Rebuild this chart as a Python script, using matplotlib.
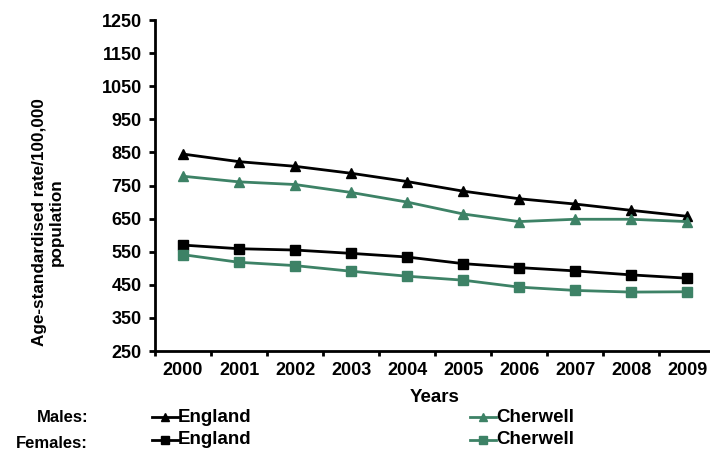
import numpy as np
import matplotlib.pyplot as plt

plt.rcParams['font.family'] = ['Liberation Sans', 'DejaVu Sans']
plt.rcParams['font.weight'] = 'bold'

years = ['2000', '2001', '2002', '2003', '2004', '2005', '2006', '2007', '2008', '2009']
england_males = [845, 822, 808, 787, 762, 733, 710, 694, 675, 657]
cherwell_males = [778, 761, 753, 729, 700, 664, 641, 648, 648, 641]
england_females = [570, 559, 555, 545, 534, 514, 502, 492, 480, 470]
cherwell_females = [541, 518, 508, 491, 476, 464, 443, 433, 428, 429]

black = '#000000'
green = '#3d8266'

W, H = 710, 450
fig = plt.figure(figsize=(W / 100, H / 100), dpi=100)
# axes box in pixels: left 155, right 715, top 20, bottom 351
ax = fig.add_axes([155 / W, 1 - 351 / H, 560 / W, 331 / H])

x = np.arange(len(years))
ax.plot(x, england_males, color=black, lw=2, marker='^', ms=7)
ax.plot(x, cherwell_males, color=green, lw=2, marker='^', ms=7)
ax.plot(x, england_females, color=black, lw=2, marker='s', ms=6.5)
ax.plot(x, cherwell_females, color=green, lw=2, marker='s', ms=6.5)

ax.set_xlim(-0.5, 9.5)
ax.set_ylim(250, 1250)
ax.set_yticks(np.arange(250, 1251, 100))
ax.set_xticks(np.arange(-0.5, 10, 1))
ax.set_xticklabels([])
ax.set_xticks(x, minor=True)
ax.set_xticklabels(years, minor=True)
ax.tick_params(axis='x', which='minor', length=0, pad=8, labelsize=13)
ax.tick_params(axis='x', which='major', length=3.5, width=2, direction='out')
ax.tick_params(axis='y', length=4.5, width=2, direction='out', pad=5, labelsize=13)
for side in ['top', 'right']:
    ax.spines[side].set_visible(False)
for side in ['left', 'bottom']:
    ax.spines[side].set_linewidth(2)

ax.set_xlabel('Years', fontsize=13.5, fontweight='bold', labelpad=7)
fig.text(48 / W, 1 - 222 / H, 'Age-standardised rate/100,000\npopulation',
         rotation=90, ha='center', va='center', fontsize=12.3, fontweight='bold',
         linespacing=1.15)

# legend drawn as text rows
rows = [('Males:', '^', 417, 417), ('Females:', 's', 440, 444)]
for label, mk, py, ty in rows:
    fy = 1 - py / H
    fig.text(88 / W, 1 - ty / H, label, ha='right', va='center', fontsize=12,
             fontweight='bold')
    for lx, col, name in [(152, black, 'England'), (470, green, 'Cherwell')]:
        fig.add_artist(plt.Line2D([lx / W, (lx + 26) / W], [fy, fy], color=col, lw=2,
                                  transform=fig.transFigure))
        fig.add_artist(plt.Line2D([(lx + 13) / W], [fy], color=col, marker=mk, ms=6,
                                  transform=fig.transFigure))
        fig.text((lx + 26) / W, fy, name, ha='left', va='center', fontsize=13.5,
                 fontweight='bold')

fig.savefig('out.png', dpi=100)
